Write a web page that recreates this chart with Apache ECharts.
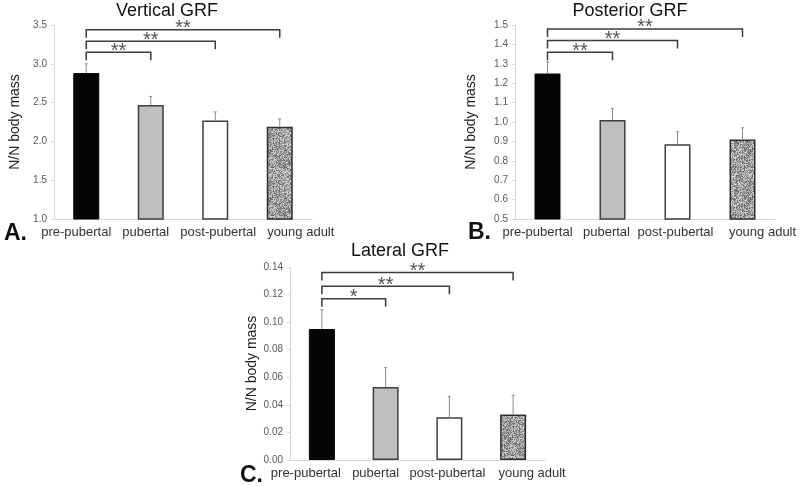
<!DOCTYPE html>
<html><head><meta charset="utf-8">
<script src="https://cdn.jsdelivr.net/npm/echarts@6/dist/echarts.min.js"></script>
<style>html,body{margin:0;padding:0;background:#fff}#c{width:800px;height:486px}</style>
</head><body><div id="c"></div>
<script>
var categories = ['pre-pubertal', 'pubertal', 'post-pubertal', 'young adult'];

var verticalMean = [2.88, 2.47, 2.27, 2.19];
var verticalSD = [0.12, 0.11, 0.11, 0.10];
var verticalTicks = [1.0, 3.5, 0.5];
var verticalBrackets = [[0, 3, 3.44, '**'], [0, 2, 3.29, '**'], [0, 1, 3.15, '**']];

var posteriorMean = [1.25, 1.01, 0.885, 0.91];
var posteriorSD = [0.06, 0.06, 0.065, 0.06];
var posteriorTicks = [0.5, 1.5, 0.1];
var posteriorBrackets = [[0, 3, 1.48, '**'], [0, 2, 1.42, '**'], [0, 1, 1.36, '**']];

var lateralMean = [0.095, 0.053, 0.031, 0.033];
var lateralSD = [0.014, 0.014, 0.015, 0.014];
var lateralTicks = [0, 0.14, 0.02];
var lateralBrackets = [[0, 3, 0.136, '**'], [0, 2, 0.126, '**'], [0, 1, 0.117, '*']];

// deterministic speckle texture for "young adult" bars
function makeNoise() {
  var cv = document.createElement('canvas');
  cv.width = 48; cv.height = 48;
  var ctx = cv.getContext('2d');
  var img = ctx.createImageData(48, 48);
  for (var i = 0; i < 48 * 48; i++) {
    var h = (i * 2654435761) >>> 0;
    h = ((h ^ (h >>> 15)) * 2246822519) >>> 0;
    h = (h ^ (h >>> 13)) >>> 0;
    var v = 95 + (h % 130);
    img.data[i * 4] = v; img.data[i * 4 + 1] = v; img.data[i * 4 + 2] = v; img.data[i * 4 + 3] = 255;
  }
  ctx.putImageData(img, 0, 0);
  return cv;
}
var noise = makeNoise();

var FONT = 'Liberation Sans, Arial, sans-serif';
var barStyles = [
  { color: '#050505', borderColor: '#050505', borderWidth: 1 },
  { color: '#bfbfbf', borderColor: '#3f3f3f', borderWidth: 1.5 },
  { color: '#ffffff', borderColor: '#3f3f3f', borderWidth: 1.5 },
  { color: { image: noise, repeat: 'repeat' }, borderColor: '#2e2e2e', borderWidth: 1.5 }
];

var grids = [
  { left: 54, width: 258, top: 25, height: 194 },
  { left: 515, width: 260, top: 25, height: 194 },
  { left: 290, width: 255, top: 267, height: 193 }
];
// horizontal label offsets (px) per panel, per category
var labelShift = [[-10, -5, 3, 21], [-10, -6, -2, 20], [-16, -10, -2, 19]];

var panels = [
  { mean: verticalMean, sd: verticalSD, ticks: verticalTicks, brackets: verticalBrackets, dec: 1 },
  { mean: posteriorMean, sd: posteriorSD, ticks: posteriorTicks, brackets: posteriorBrackets, dec: 1 },
  { mean: lateralMean, sd: lateralSD, ticks: lateralTicks, brackets: lateralBrackets, dec: 2 }
];

var xAxes = [], yAxes = [], series = [];
panels.forEach(function (p, k) {
  var rich = {};
  labelShift[k].forEach(function (s, i) {
    rich['c' + i] = {
      color: '#333', fontSize: 13, fontFamily: FONT,
      padding: s < 0 ? [0, -2 * s, 0, 0] : [0, 0, 0, 2 * s]
    };
  });
  xAxes.push({
    type: 'category', gridIndex: k, data: categories,
    axisLine: { lineStyle: { color: '#d9d9d9', width: 1 } },
    axisTick: { show: false },
    axisLabel: {
      color: '#333', fontSize: 13, fontFamily: FONT, margin: 7, interval: 0, rich: rich,
      formatter: function (v, i) { return '{c' + i + '|' + v + '}'; }
    }
  });
  yAxes.push({
    type: 'value', gridIndex: k, min: p.ticks[0], max: p.ticks[1], interval: p.ticks[2],
    name: 'N/N body mass', nameLocation: 'middle', nameGap: k === 2 ? 30 : (k === 0 ? 32 : 37),
    nameTextStyle: { color: '#222', fontSize: 14, fontFamily: FONT },
    axisLine: { show: true, lineStyle: { color: '#d9d9d9' } },
    axisTick: { show: true, length: 3, lineStyle: { color: '#d9d9d9' } },
    splitLine: { show: false },
    axisLabel: {
      color: '#595959', fontSize: 10, fontFamily: FONT, margin: 7,
      formatter: (function (d) { return function (v) { return v.toFixed(d); }; })(p.dec)
    }
  });
  series.push({
    type: 'bar', xAxisIndex: k, yAxisIndex: k, barWidth: 26, z: 2,
    data: p.mean.map(function (v, i) { return { value: v, itemStyle: barStyles[i] }; })
  });
  series.push({
    type: 'custom', xAxisIndex: k, yAxisIndex: k, z: 3, clip: false,
    data: p.mean.map(function (v, i) { return [i, v, v + p.sd[i]]; }),
    renderItem: function (params, api) {
      var a = api.coord([api.value(0), api.value(1)]);
      var b = api.coord([api.value(0), api.value(2)]);
      return { type: 'group', children: [
        { type: 'line', shape: { x1: a[0], y1: a[1], x2: b[0], y2: b[1] }, style: { stroke: '#8a8a8a', lineWidth: 1 } },
        { type: 'line', shape: { x1: b[0] - 1.5, y1: b[1], x2: b[0] + 1.5, y2: b[1] }, style: { stroke: '#8a8a8a', lineWidth: 1 } }
      ] };
    }
  });
  series.push({
    type: 'custom', xAxisIndex: k, yAxisIndex: k, z: 4, clip: false,
    data: p.brackets.map(function (b) { return [b[0], b[1], b[2]]; }),
    renderItem: function (params, api) {
      var br = p.brackets[params.dataIndex];
      var a = api.coord([api.value(0), api.value(2)]);
      var b = api.coord([api.value(1), api.value(2)]);
      var drop = 8;
      return { type: 'group', children: [
        { type: 'polyline', shape: { points: [[a[0], a[1] + drop], [a[0], a[1]], [b[0], b[1]], [b[0], b[1] + drop]] },
          style: { stroke: '#3c3c3c', lineWidth: 1.5, fill: null } },
        { type: 'text', x: (a[0] + b[0]) / 2, y: a[1] + 9,
          style: { text: br[3], fill: '#555', font: '20px ' + FONT, textAlign: 'center', textVerticalAlign: 'bottom' } }
      ] };
    }
  });
});

var chart = echarts.init(document.getElementById('c'), null, { renderer: 'canvas' });
chart.setOption({
  backgroundColor: '#fff',
  animation: false,
  grid: grids,
  xAxis: xAxes,
  yAxis: yAxes,
  series: series,
  graphic: [
    { type: 'text', x: 167, y: 2, style: { text: 'Vertical GRF', font: '18px ' + FONT, fill: '#111', textAlign: 'center' } },
    { type: 'text', x: 630, y: 2, style: { text: 'Posterior GRF', font: '18px ' + FONT, fill: '#111', textAlign: 'center' } },
    { type: 'text', x: 400, y: 242, style: { text: 'Lateral GRF', font: '18px ' + FONT, fill: '#111', textAlign: 'center' } },
    { type: 'text', x: 4, y: 222, style: { text: 'A.', font: 'bold 23px ' + FONT, fill: '#111' } },
    { type: 'text', x: 468, y: 221, style: { text: 'B.', font: 'bold 23px ' + FONT, fill: '#111' } },
    { type: 'text', x: 240, y: 464, style: { text: 'C.', font: 'bold 23px ' + FONT, fill: '#111' } }
  ]
});
</script></body></html>
